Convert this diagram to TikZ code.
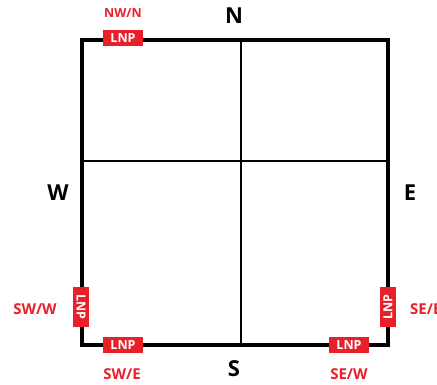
\documentclass[tikz,border=0pt]{standalone}
\usepackage{fontspec}
\setmainfont{Open Sans}
\definecolor{lnpred}{HTML}{E8202A}
\begin{document}
\begin{tikzpicture}[x=1pt,y=-1pt,
  lnp/.style={fill=lnpred,text=white,font=\bfseries\fontsize{12.5}{12.5}\selectfont,inner sep=0pt,minimum width=40pt,minimum height=16pt},
  dir/.style={font=\bfseries\fontsize{22}{22}\selectfont,inner sep=0pt},
  lab/.style={text=lnpred,font=\bfseries\fontsize{15}{15}\selectfont,inner sep=0pt}]
\useasboundingbox (0,0) rectangle (437,384);
\coordinate (tl) at (82,40);
\coordinate (br) at (388,345);
\draw[line width=2pt] (241,40) -- (241,345);
\draw[line width=2pt] (82,161) -- (388,161);
\draw[line width=4pt] (tl) rectangle (br);
\node[lnp] (l1) at (123,38) {LNP};
\node[lnp] (l2) at (123,345) {LNP};
\node[lnp] (l3) at (349,345) {LNP};
\node[lnp,rotate=-90] (l4) at (81,307) {LNP};
\node[lnp,rotate=90] (l5) at (388,307) {LNP};
\node[dir] (n) at (234,16) {N};
\node[dir] (s) at (234,369) {S};
\node[dir] (w) at (58,193) {W};
\node[dir] (e) at (410,193) {E};
\node[lab,font=\bfseries\fontsize{12.5}{12.5}\selectfont] (nwn) at (123,13) {NW/N};
\node[lab] (sww) at (35,309) {SW/W};
\node[lab] (swe) at (122,374) {SW/E};
\node[lab] (sew) at (349,374) {SE/W};
\node[lab,anchor=west] (see) at (410,309) {SE/E};
\end{tikzpicture}
\end{document}
